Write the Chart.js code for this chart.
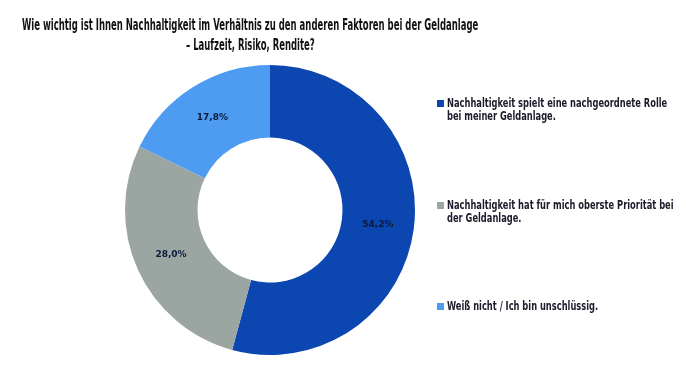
<!DOCTYPE html>
<html>
<head>
<meta charset="utf-8">
<script src="https://cdn.jsdelivr.net/npm/chart.js@4"></script>
<style>
  body { margin: 0; background: #fff; }
  #wrap { position: relative; width: 686px; height: 376px; overflow: hidden; }
  canvas { position: absolute; left: 0; top: 0; }
  .tl { position: absolute; white-space: nowrap; font-family: "DejaVu Sans Condensed", sans-serif;
    font-weight: bold; font-size: 15px; line-height: 19px; color: #111; transform-origin: 0 0; }
  .leg { position: absolute; left: 437px; font-family: "DejaVu Sans Condensed", sans-serif;
    font-size: 12px; line-height: 13px; color: #1b1b2b; font-weight: bold; }
  .leg i { position: absolute; left: 0; top: 3px; width: 7px; height: 7px; }
  .leg span { display: block; margin-left: 10px; white-space: nowrap; transform-origin: 0 0; }
</style>
</head>
<body>
<div id="wrap">
  <canvas id="donut" width="686" height="376"></canvas>
  <div id="title"></div>
  <div id="legend"></div>
</div>
<script>
const titleLines = [
  "Wie wichtig ist Ihnen Nachhaltigkeit im Verhältnis zu den anderen Faktoren bei der Geldanlage",
  "– Laufzeit, Risiko, Rendite?"
];
const categories = [
  ["Nachhaltigkeit spielt eine nachgeordnete Rolle", "bei meiner Geldanlage."],
  ["Nachhaltigkeit hat für mich oberste Priorität bei", "der Geldanlage."],
  ["Weiß nicht / Ich bin unschlüssig."]
];
const values = [54.2, 28.0, 17.8];
const valueLabels = ["54,2%", "28,0%", "17,8%"];
const colors = ["#0c46b0", "#9ba6a3", "#4e9cf1"];
const legendTops = [97, 199, 300];

// percentage labels in the middle of each ring segment
const sliceLabels = {
  id: "sliceLabels",
  afterDatasetsDraw(chart) {
    const ctx = chart.ctx;
    ctx.save();
    ctx.font = "bold 9px 'DejaVu Sans'";
    ctx.fillStyle = "#0a1a3a";
    ctx.textAlign = "center";
    ctx.textBaseline = "middle";
    chart.getDatasetMeta(0).data.forEach((arc, i) => {
      const p = arc.getCenterPoint();
      ctx.fillText(valueLabels[i], p.x, p.y);
    });
    ctx.restore();
  }
};

new Chart(document.getElementById("donut"), {
  type: "doughnut",
  data: {
    labels: categories,
    datasets: [{
      data: values,
      backgroundColor: colors,
      borderWidth: 0
    }]
  },
  options: {
    responsive: false,
    animation: false,
    cutout: "50%",
    layout: { padding: { top: 65, bottom: 21, left: 125, right: 271 } },
    plugins: {
      legend: { display: false },
      tooltip: { enabled: false },
      title: { display: false }
    }
  },
  plugins: [sliceLabels]
});

// title: condensed to the width of the original (first line ~456px, centred at x=250)
const title = document.getElementById("title");
const tEls = titleLines.map((t, i) => {
  const d = document.createElement("div");
  d.className = "tl";
  d.textContent = t;
  d.style.top = (16 + i * 20) + "px";
  title.appendChild(d);
  return d;
});
const tScale = 456 / tEls[0].offsetWidth;
tEls.forEach(d => {
  const w = d.offsetWidth * tScale;
  d.style.left = (250 - w / 2) + "px";
  d.style.transform = "scaleX(" + tScale + ")";
});

// html legend built from the same arrays
const legend = document.getElementById("legend");
const spans = [];
categories.forEach((lines, i) => {
  const d = document.createElement("div");
  d.className = "leg";
  d.style.top = legendTops[i] + "px";
  d.innerHTML = '<i style="background:' + colors[i] + '"></i>';
  const s = document.createElement("span");
  s.innerHTML = lines.join("<br>");
  d.appendChild(s);
  legend.appendChild(d);
  spans.push(s);
});
const lScale = 220 / spans[0].offsetWidth;
spans.forEach(s => { s.style.transform = "scaleX(" + lScale + ")"; });
</script>
</body>
</html>
